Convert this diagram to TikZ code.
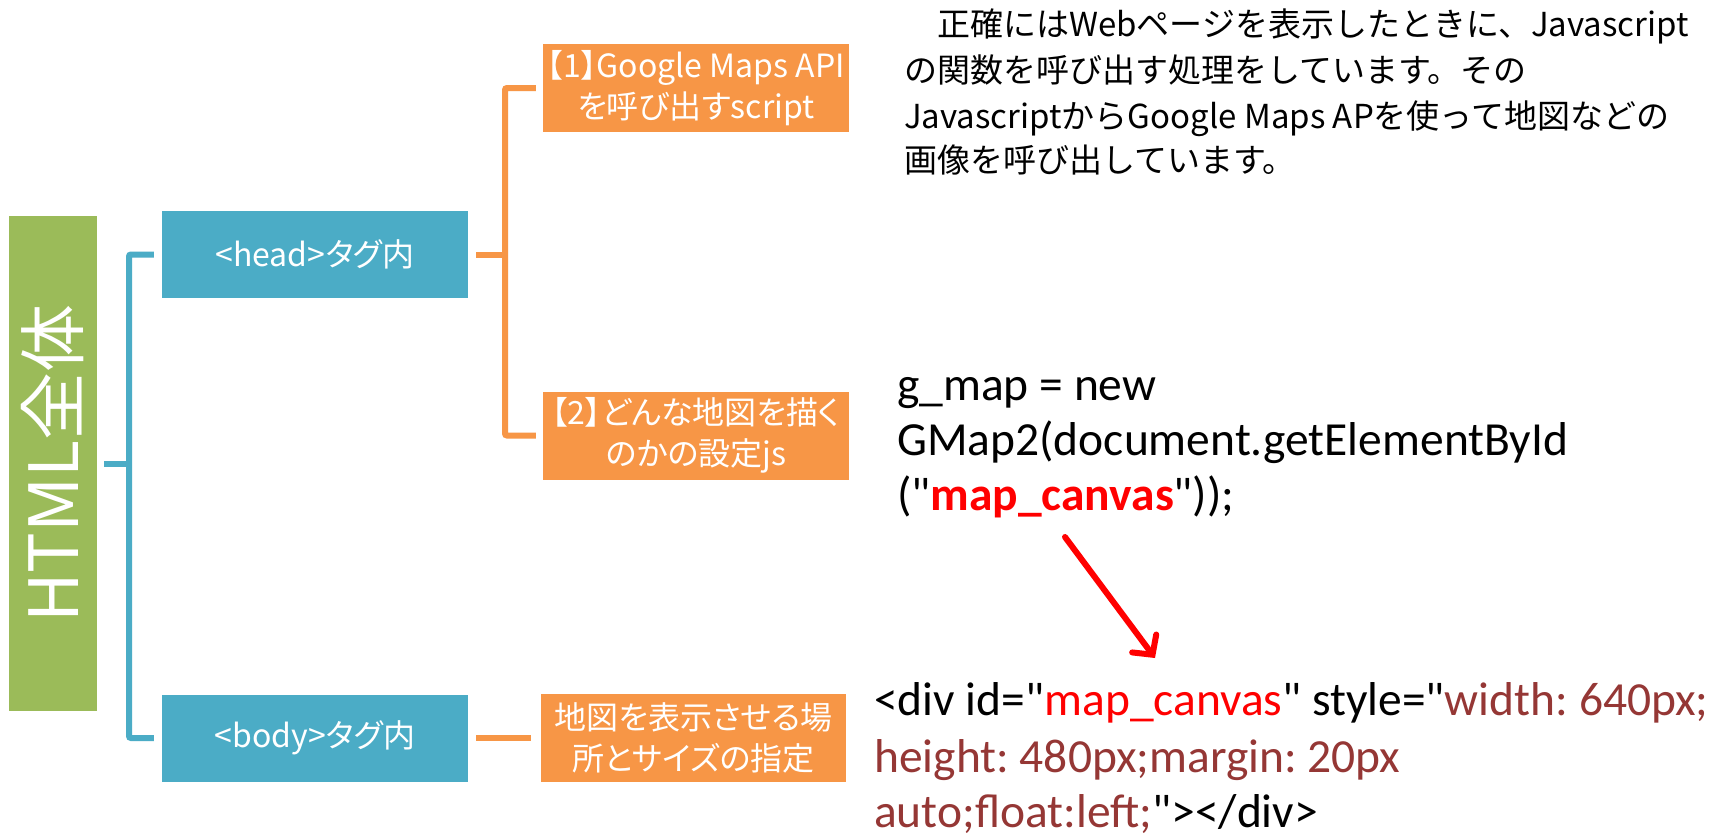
\documentclass[tikz,border=0pt]{standalone}
\usepackage{fontspec}
\newfontfamily\jpfont{Noto Sans CJK JP}
\newfontfamily\jpbox[RawFeature=+palt]{Noto Sans CJK JP}
\newfontfamily\calfont{Carlito}
\usetikzlibrary{arrows.meta}
\definecolor{cblue}{HTML}{4BACC6}
\definecolor{cgreen}{HTML}{9BBB59}
\definecolor{corange}{HTML}{F79646}
\definecolor{cbrown}{HTML}{953735}
\definecolor{cred}{HTML}{FF0000}
\frenchspacing
\begin{document}
\begin{tikzpicture}[x=1pt,y=-1pt]
\tikzset{
 box/.style={inner sep=0pt, align=center, text=white, font=\jpbox\fontsize{32}{41}\selectfont},
 bluebox/.style={box, fill=cblue, minimum width=306pt, minimum height=87pt},
 orbox/.style={box, fill=corange, minimum width=306pt, minimum height=88pt},
 blueline/.style={draw=cblue, line width=6pt, rounded corners=2pt},
 orline/.style={draw=corange, line width=6pt, rounded corners=2pt},
 codeline/.style={inner sep=0pt, anchor=base west, font=\calfont\fontsize{47.5}{55}\selectfont},
 descline/.style={inner sep=0pt, anchor=base west, font=\jpfont\fontsize{33}{45}\selectfont},
}
\fill[white] (0,0) rectangle (1733,833);
\useasboundingbox (0,0) rectangle (1733,833);

% boxes
\node[fill=cgreen, inner sep=0pt, minimum width=88pt, minimum height=495pt, text=white,
      font=\jpfont\fontsize{68}{68}\selectfont] (html) at (53,463.5) {\rotatebox{90}{HTML全体}};
\node[bluebox] (head) at (315,254.5) {<head>タグ内};
\node[bluebox] (body) at (315,738) {<body>タグ内};
\node[orbox] (box1) at (696,88) {【1】Google Maps API\\を呼び出すscript};
\node[orbox] (box2) at (696,435.5) {【2】どんな地図を描く\\のかの設定js};
\node[orbox, minimum width=305pt] (box3) at (693.5,738) {地図を表示させる場\\所とサイズの指定};

% connectors
\coordinate (bj) at (129,463.5);
\draw[blueline] ([xshift=7pt]html.east) -- (bj);
\draw[blueline] ([xshift=-8pt]head.west) -| (bj) |- ([xshift=-8pt]body.west);
\coordinate (oj) at (505,254.5);
\draw[orline] ([xshift=8pt]head.east) -- (oj);
\draw[orline] ([xshift=-7pt]box1.west) -| (oj) |- ([xshift=-7pt]box2.west);
\draw[orline] ([xshift=8pt]body.east) -- ([xshift=-10pt]box3.west);

% description
\node[descline] (d1) at (904,36) {　正確にはWebページを表示したときに、Javascript};
\node[descline] (d2) at (904,82) {の関数を呼び出す処理をしています。その};
\node[descline] (d3) at (904,128) {JavascriptからGoogle Maps APを使って地図などの};
\node[descline] (d4) at (904,172) {画像を呼び出しています。};

% code 1
\node[codeline] (c1a) at (897,400) {g\_map = new};
\node[codeline] (c1b) at (897,455) {GMap2(document.getElementById};
\node[codeline] (c1c) at (897,510) {("\textcolor{cred}{\bfseries map\_canvas}"));};

% code 2
\node[codeline] (c2a) at (874,715) {<div id="\textcolor{cred}{map\_canvas}" style="\textcolor{cbrown}{width: 640px;}};
\node[codeline, text=cbrown] (c2b) at (874,772) {height: 480px;margin: 20px};
\node[codeline] (c2c) at (874,827) {\textcolor{cbrown}{auto;float:left;}"></div>};

% arrow
\coordinate (as) at (1065,537);
\coordinate (ae) at (1155,658);
\draw[cred, line width=6pt, line cap=round, -{Straight Barb[length=14pt,width=30pt,line cap=round]}] (as) -- (ae);
\end{tikzpicture}
\end{document}
